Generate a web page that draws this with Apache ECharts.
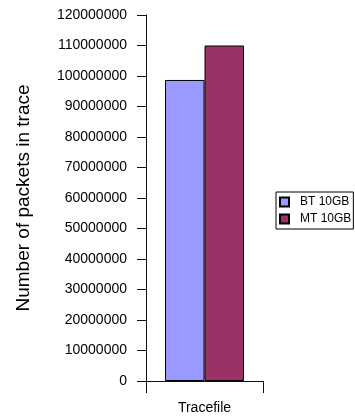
<!DOCTYPE html>
<html>
<head>
<meta charset="utf-8">
<script src="https://cdn.jsdelivr.net/npm/echarts@6/dist/echarts.min.js"></script>
<style>html,body{margin:0;padding:0;background:#fff;}#c{width:355px;height:420px;}</style>
</head>
<body>
<div id="c"></div>
<script>
const categories = ['Tracefile'];
const seriesNames = ['BT 10GB', 'MT 10GB'];
const btValues = [98700000];
const mtValues = [110000000];
const yTicks = { min: 0, max: 120000000, interval: 10000000 };

const FONT = '"Liberation Sans", Arial, sans-serif';
const chart = echarts.init(document.getElementById('c'), null, { renderer: 'canvas' });
chart.setOption({
  animation: false,
  backgroundColor: '#fff',
  textStyle: { fontFamily: FONT },
  grid: { left: 146, right: 92, top: 15, bottom: 39, containLabel: false },
  legend: {
    orient: 'vertical',
    left: 276, top: 192,
    padding: [4, 2, 4, 3],
    itemWidth: 9, itemHeight: 9, itemGap: 5,
    icon: 'rect',
    borderColor: '#000', borderWidth: 1,
    textStyle: { fontSize: 12, color: '#000', fontFamily: FONT, padding: [0, 0, 0, 6] },
    data: seriesNames
  },
  xAxis: {
    type: 'category',
    data: categories,
    axisLine: { lineStyle: { color: '#111', width: 1 } },
    axisTick: { show: true, length: 12, interval: function (i) { return i === 0; }, lineStyle: { color: '#111' } },
    axisLabel: { fontSize: 14, color: '#000', margin: 20, fontFamily: FONT }
  },
  yAxis: {
    type: 'value',
    min: yTicks.min, max: yTicks.max, interval: yTicks.interval,
    name: 'Number of packets in trace',
    nameLocation: 'middle',
    nameRotate: 90,
    nameGap: 113,
    nameTextStyle: { fontSize: 19, color: '#000', fontFamily: FONT },
    axisLine: { show: true, lineStyle: { color: '#111', width: 1 } },
    axisTick: { show: true, length: 9, lineStyle: { color: '#111' } },
    axisLabel: { fontSize: 14, color: '#000', margin: 19, fontFamily: FONT, formatter: function (v) { return String(v); } },
    splitLine: { show: false }
  },
  series: [
    {
      name: seriesNames[0], type: 'bar', data: btValues,
      barGap: '0%', barCategoryGap: '32.5%',
      itemStyle: { color: '#9999FF', borderColor: '#000', borderWidth: 1 }
    },
    {
      name: seriesNames[1], type: 'bar', data: mtValues,
      barGap: '0%', barCategoryGap: '32.5%',
      itemStyle: { color: '#993366', borderColor: '#000', borderWidth: 1 }
    }
  ]
});
</script>
</body>
</html>
